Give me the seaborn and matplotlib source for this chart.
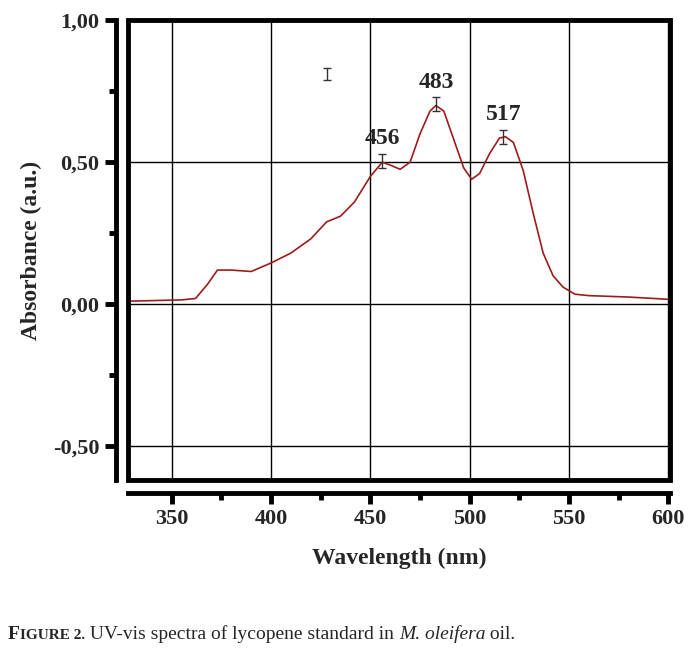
import numpy as np
import pandas as pd
import matplotlib
matplotlib.use('Agg')
import matplotlib.pyplot as plt
import seaborn as sns
from matplotlib.ticker import MultipleLocator
from matplotlib.patches import Rectangle

wavelength = [326, 355, 362, 368, 373, 380, 390, 400, 410, 420, 428, 435, 442, 450, 456,
              460, 465, 470, 475, 480, 483, 487, 492, 497, 501, 505, 510, 515, 518, 522,
              527, 532, 537, 542, 547, 553, 560, 580, 605]
absorbance = [0.01, 0.015, 0.02, 0.07, 0.12, 0.12, 0.115, 0.145, 0.18, 0.23, 0.29, 0.31, 0.36,
              0.45, 0.50, 0.49, 0.475, 0.50, 0.60, 0.68, 0.70, 0.68, 0.58, 0.48, 0.44, 0.46,
              0.53, 0.585, 0.59, 0.57, 0.47, 0.32, 0.18, 0.10, 0.06, 0.035, 0.03, 0.025, 0.015]
peak_x = [456, 483, 517]
peak_y = [0.505, 0.705, 0.59]
peak_err = [0.025, 0.025, 0.025]
peak_labels = ['456', '483', '517']
lone_x, lone_y, lone_err = 428, 0.81, 0.022

sns.set_style('white')
plt.rcParams['font.family'] = ['Liberation Serif', 'DejaVu Serif']

df = pd.DataFrame({'wl': wavelength, 'abs': absorbance})
fig = plt.figure(figsize=(6.96, 6.55), dpi=100)
ax = fig.add_axes([0.184, 0.267, 0.779, 0.702])
sns.lineplot(data=df, x='wl', y='abs', ax=ax, color='#9b1c1c', lw=1.2)
ax.errorbar(peak_x, peak_y, yerr=peak_err, fmt='none', ecolor='#333333', capsize=3, lw=1)
ax.errorbar([lone_x], [lone_y], yerr=[lone_err], fmt='none', ecolor='#333333', capsize=3, lw=1)
for x, y, t in zip(peak_x, peak_y, peak_labels):
    ax.text(x, y + 0.04, t, ha='center', va='bottom', fontsize=17, fontweight='bold')

ax.set_xlim(328, 601)
ax.set_ylim(-0.62, 1.0)
ax.xaxis.set_major_locator(MultipleLocator(50))
ax.xaxis.set_minor_locator(MultipleLocator(25))
ax.yaxis.set_major_locator(MultipleLocator(0.5))
ax.yaxis.set_minor_locator(MultipleLocator(0.25))
ax.yaxis.set_major_formatter(lambda v, p: f'{v:.2f}'.replace('.', ','))
ax.grid(True, which='major', color='black', lw=1)

# box frame plus offset axis lines
ax.add_patch(Rectangle((0, 0), 1, 1, transform=ax.transAxes, fill=False,
                       lw=3.5, ec='black', clip_on=False, zorder=5))
for s in ['top', 'right']:
    ax.spines[s].set_visible(False)
for s in ['left', 'bottom']:
    ax.spines[s].set_visible(True)
    ax.spines[s].set_linewidth(3.5)
    ax.spines[s].set_color('black')
    ax.spines[s].set_position(('outward', 9))
ax.tick_params(which='major', direction='out', length=8, width=3.5, labelsize=16,
               left=True, bottom=True, color='black')
ax.tick_params(which='minor', direction='out', length=5, width=3.5,
               left=True, bottom=True, color='black')
for lab in ax.get_xticklabels() + ax.get_yticklabels():
    lab.set_fontweight('bold')
ax.set_xlabel('Wavelength (nm)', fontsize=17, fontweight='bold', labelpad=14)
ax.set_ylabel('Absorbance (a.u.)', fontsize=17, fontweight='bold', labelpad=8)

# caption, pieces placed one after the other
fig.canvas.draw()
r = fig.canvas.get_renderer()
x0 = 8 / 696
parts = [('F', 14, 'bold', 'normal'), ('IGURE 2.', 11, 'bold', 'normal'),
         (' UV-vis spectra of lycopene standard in ', 14, 'normal', 'normal'),
         ('M. oleifera', 14, 'normal', 'italic'), (' oil.', 14, 'normal', 'normal')]
for txt, fs, fw, st in parts:
    t = fig.text(x0, 0.025, txt, fontsize=fs, fontweight=fw, style=st)
    x0 += t.get_window_extent(renderer=r).width / fig.bbox.width

fig.savefig('out.png', dpi=100)
